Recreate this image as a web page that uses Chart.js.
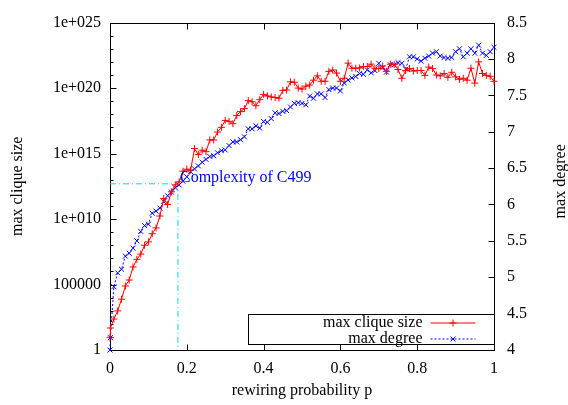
<!DOCTYPE html>
<html>
<head>
<meta charset="utf-8">
<title>max clique size / max degree</title>
<script src="https://cdn.jsdelivr.net/npm/chart.js@4.4.1/dist/chart.umd.min.js"></script>
<style>
  body { margin: 0; background: #fff; }
  canvas { display: block; }
</style>
</head>
<body>
<canvas id="chart" width="568" height="405"></canvas>
<script>
// Rewiring probability p (x axis)
const pValues = [
  0, 0.001, 0.01, 0.02, 0.03, 0.04, 0.05, 0.06, 0.07, 0.08, 0.09, 0.10,
  0.11, 0.12, 0.13, 0.14, 0.15, 0.16, 0.17, 0.18, 0.19, 0.20,
  0.21, 0.22, 0.23, 0.24, 0.25, 0.26, 0.27, 0.28, 0.29, 0.30,
  0.31, 0.32, 0.33, 0.34, 0.35, 0.36, 0.37, 0.38, 0.39, 0.40,
  0.41, 0.42, 0.43, 0.44, 0.45, 0.46, 0.47, 0.48, 0.49, 0.50,
  0.51, 0.52, 0.53, 0.54, 0.55, 0.56, 0.57, 0.58, 0.59, 0.60,
  0.61, 0.62, 0.63, 0.64, 0.65, 0.66, 0.67, 0.68, 0.69, 0.70,
  0.71, 0.72, 0.73, 0.74, 0.75, 0.76, 0.77, 0.78, 0.79, 0.80,
  0.81, 0.82, 0.83, 0.84, 0.85, 0.86, 0.87, 0.88, 0.89, 0.90,
  0.91, 0.92, 0.93, 0.94, 0.95, 0.96, 0.97, 0.98, 0.99, 1.00
];

// max clique size (left axis, log)
const cliqueSize = [
  9.3, 48, 2.3e2, 9.7e2, 7.6e3, 7.7e4, 2.2e5, 2.2e6, 8.3e6, 2.1e7, 1.0e8, 1.8e8,
  7.6e8, 2.1e9, 1.7e10, 3.7e11, 1.3e11, 1.2e12, 4.1e12, 6.9e12, 4.5e13, 6.4e13,
  5.4e13, 2.4e15, 8.4e14, 1.8e15, 1.4e15, 1.1e16, 1.1e16, 4.4e16, 1.0e17, 3.4e17,
  2.9e17, 1.9e17, 8.1e17, 1.6e18, 2.7e18, 1.1e19, 9.0e18, 4.5e18, 1.3e19, 3.3e19,
  2.5e19, 2.1e19, 1.9e19, 1.7e19, 6.7e19, 7.1e19, 3.0e20, 2.8e20, 1.0e20, 8.4e19,
  1.4e20, 1.7e20, 4.0e20, 8.6e20, 3.3e20, 3.3e20, 1.9e21, 2.4e21, 1.4e21, 3.3e20,
  5.6e20, 8.0e21, 3.3e21, 3.3e21, 3.4e21, 4.4e21, 4.4e21, 6.7e21, 3.1e21, 3.1e21,
  4.8e21, 1.9e21, 6.7e21, 6.2e21, 2.6e21, 5.6e20, 2.2e21, 3.1e21, 2.0e21, 2.2e21,
  2.2e21, 9.3e20, 4.0e21, 3.1e21, 1.0e21, 8.6e20, 1.3e21, 6.6e20, 1.6e21, 7.2e20,
  4.7e20, 5.6e20, 4.0e20, 3.3e21, 2.4e20, 1.0e22, 1.3e21, 9.3e20, 7.9e20, 3.3e20
];

// max degree (right axis)
const maxDegree = [
  4.00, 4.17, 4.87, 5.06, 5.11, 5.29, 5.33, 5.40, 5.50, 5.63, 5.71, 5.73,
  5.88, 5.91, 5.95, 6.04, 6.12, 6.17, 6.23, 6.27, 6.32, 6.38,
  6.45, 6.49, 6.53, 6.58, 6.62, 6.66, 6.67, 6.71, 6.74, 6.75,
  6.81, 6.86, 6.86, 6.89, 6.93, 7.04, 7.04, 7.08, 7.05, 7.14,
  7.13, 7.18, 7.26, 7.25, 7.28, 7.29, 7.34, 7.39, 7.40, 7.39,
  7.37, 7.49, 7.46, 7.52, 7.52, 7.47, 7.58, 7.60, 7.60, 7.56,
  7.67, 7.71, 7.74, 7.76, 7.80, 7.79, 7.85, 7.81, 7.84, 7.94,
  7.88, 7.82, 7.92, 7.92, 7.95, 7.94, 7.86, 8.03, 8.03, 8.00,
  7.97, 8.01, 8.04, 8.08, 8.10, 8.04, 8.02, 8.01, 8.02, 8.10,
  8.14, 8.03, 8.08, 8.14, 8.08, 8.19, 8.08, 8.05, 8.10, 8.16
];

// C499 marker
const c499P = 0.177;
const c499Size = 4.9e12;
const c499Label = 'Complexity of C499';

// ticks
const xTicks = [0, 0.2, 0.4, 0.6, 0.8, 1];
const xTickLabels = ['0', '0.2', '0.4', '0.6', '0.8', '1'];
const cliqueDecades = 25;
const cliqueTickLabels = ['1', '100000', '1e+010', '1e+015', '1e+020', '1e+025'];
const degreeTicks = [4, 4.5, 5, 5.5, 6, 6.5, 7, 7.5, 8, 8.5];
const degreeTickLabels = ['4', '4.5', '5', '5.5', '6', '6.5', '7', '7.5', '8', '8.5'];

const FONT = 'Liberation Serif, Times New Roman, serif';
const tickFont = { family: FONT, size: 16 };

function points(ys) {
  return pValues.map((p, i) => ({ x: p, y: ys[i] }));
}

// frame, inward tics, titles, label and the key, gnuplot style
const gnuplotFrame = {
  id: 'gnuplotFrame',
  beforeDatasetsDraw(chart) {
    const ctx = chart.ctx;
    const a = chart.chartArea;
    const sx = chart.scales.x;
    const sc = chart.scales.yClique;
    const sd = chart.scales.yDegree;
    const L = Math.round(a.left) + 0.5, R = Math.round(a.right) + 0.5;
    const T = Math.round(a.top) + 0.5, B = Math.round(a.bottom) + 0.5;
    ctx.save();
    ctx.strokeStyle = '#000';
    ctx.lineWidth = 1;
    ctx.beginPath();
    sx.ticks.forEach(t => {
      const px = Math.round(sx.getPixelForValue(t.value)) + 0.5;
      ctx.moveTo(px, B); ctx.lineTo(px, B - 6);
      ctx.moveTo(px, T); ctx.lineTo(px, T + 6);
    });
    sc.ticks.forEach(t => {
      const py = Math.round(sc.getPixelForValue(t.value)) + 0.5;
      ctx.moveTo(L, py); ctx.lineTo(L + (t.label ? 6 : 3), py);
    });
    sd.ticks.forEach(t => {
      const py = Math.round(sd.getPixelForValue(t.value)) + 0.5;
      ctx.moveTo(R, py); ctx.lineTo(R - 6, py);
    });
    ctx.stroke();
    ctx.strokeRect(L, T, R - L, B - T);
    ctx.restore();
  },
  afterDatasetsDraw(chart) {
    const ctx = chart.ctx;
    const a = chart.chartArea;
    const sx = chart.scales.x;
    const sc = chart.scales.yClique;
    ctx.save();
    ctx.font = `16px ${FONT}`;
    ctx.textBaseline = 'middle';

    // C499 label
    ctx.fillStyle = '#0000ff';
    ctx.textAlign = 'left';
    ctx.fillText(c499Label, sx.getPixelForValue(c499P) + 2, sc.getPixelForValue(c499Size) - 6);

    // axis titles
    ctx.fillStyle = '#000';
    ctx.textAlign = 'center';
    ctx.fillText('rewiring probability p', (a.left + a.right) / 2, 391);
    ctx.save();
    ctx.translate(18, (a.top + a.bottom) / 2);
    ctx.rotate(-Math.PI / 2);
    ctx.fillText('max clique size', 0, 0);
    ctx.restore();
    ctx.save();
    ctx.translate(561, (a.top + a.bottom) / 2 - 5);
    ctx.rotate(-Math.PI / 2);
    ctx.fillText('max degree', 0, 0);
    ctx.restore();

    // key
    const boxL = Math.round(a.right) - 245.5, boxT = Math.round(a.bottom) - 35.5;
    ctx.strokeStyle = '#000';
    ctx.lineWidth = 1;
    ctx.strokeRect(boxL, boxT, Math.round(a.right) + 0.5 - boxL, 30);
    chart.data.datasets.slice(0, 2).forEach((ds, i) => {
      const y = boxT + 8.5 + i * 16;
      ctx.fillStyle = '#000';
      ctx.textAlign = 'right';
      ctx.fillText(ds.label, boxL + 174, y);
      ctx.strokeStyle = ds.borderColor;
      ctx.setLineDash(ds.borderDash || []);
      ctx.beginPath();
      ctx.moveTo(boxL + 182, y);
      ctx.lineTo(boxL + 227, y);
      ctx.stroke();
      ctx.setLineDash([]);
      ctx.fillStyle = ds.borderColor;
      Chart.helpers.drawPoint(ctx, { pointStyle: ds.pointStyle, radius: ds.pointRadius, rotation: 0, borderWidth: 1 }, boxL + 204.5, y);
    });
    ctx.restore();
  }
};

function drawChart() {
  const ctx = document.getElementById('chart').getContext('2d');
  new Chart(ctx, {
    type: 'line',
    data: {
      datasets: [
        {
          label: 'max clique size',
          data: points(cliqueSize),
          yAxisID: 'yClique',
          borderColor: '#ff0000',
          backgroundColor: '#ff0000',
          borderWidth: 1,
          pointStyle: 'cross',
          pointRadius: 3.5,
          pointBorderWidth: 1,
          tension: 0,
          clip: false
        },
        {
          label: 'max degree',
          data: points(maxDegree),
          yAxisID: 'yDegree',
          borderColor: '#0000ff',
          backgroundColor: '#0000ff',
          borderWidth: 1,
          borderDash: [2, 2],
          pointStyle: 'crossRot',
          pointRadius: 3.5,
          pointBorderWidth: 1,
          tension: 0,
          clip: false
        },
        {
          label: 'C499',
          data: [{ x: 0, y: c499Size }, { x: c499P, y: c499Size }, { x: c499P, y: 1 }],
          yAxisID: 'yClique',
          borderColor: '#00dddd',
          borderWidth: 1,
          borderDash: [6, 3, 1, 3],
          pointRadius: 0,
          tension: 0
        }
      ]
    },
    options: {
      responsive: false,
      animation: false,
      layout: { padding: { top: 15, left: 0, right: 0, bottom: 0 } },
      plugins: { legend: { display: false }, tooltip: { enabled: false } },
      scales: {
        x: {
          type: 'linear',
          position: 'bottom',
          min: 0,
          max: 1,
          afterBuildTicks: s => { s.ticks = xTicks.map(v => ({ value: v })); },
          afterFit: s => { s.height = 55; },
          ticks: {
            autoSkip: false,
            maxRotation: 0,
            padding: 9,
            color: '#000',
            font: tickFont,
            callback: (v, i) => xTickLabels[i]
          },
          grid: { display: false, drawTicks: false },
          border: { display: false }
        },
        yClique: {
          type: 'logarithmic',
          position: 'left',
          min: 1,
          max: 1e25,
          afterBuildTicks: s => {
            const t = [];
            for (let e = 0; e <= cliqueDecades; e++) t.push({ value: Math.pow(10, e) });
            s.ticks = t;
          },
          afterFit: s => { s.width = 110; },
          ticks: {
            autoSkip: false,
            padding: 9,
            color: '#000',
            font: tickFont,
            callback: (v, i) => (i % 5 === 0 ? cliqueTickLabels[i / 5] : '')
          },
          grid: { display: false, drawTicks: false },
          border: { display: false }
        },
        yDegree: {
          type: 'linear',
          position: 'right',
          min: 4,
          max: 8.5,
          afterBuildTicks: s => { s.ticks = degreeTicks.map(v => ({ value: v })); },
          afterFit: s => { s.width = 74; },
          ticks: {
            autoSkip: false,
            padding: 13,
            color: '#000',
            font: tickFont,
            callback: (v, i) => degreeTickLabels[i]
          },
          grid: { display: false, drawTicks: false },
          border: { display: false }
        }
      }
    },
    plugins: [gnuplotFrame]
  });
}

window.onload = drawChart;
</script>
</body>
</html>
